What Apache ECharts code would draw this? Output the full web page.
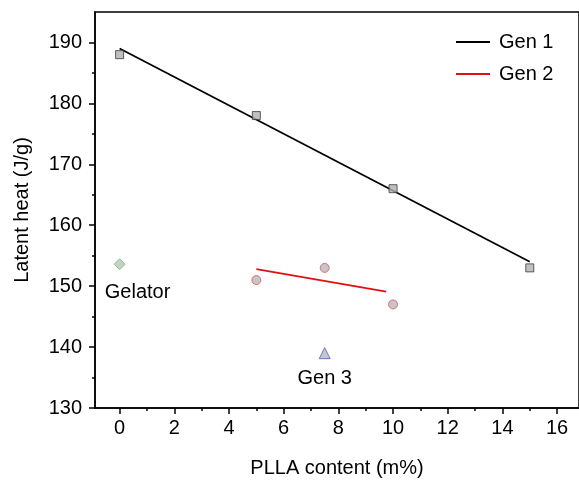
<!DOCTYPE html>
<html>
<head>
<meta charset="utf-8">
<script src="https://cdn.jsdelivr.net/npm/echarts@6/dist/echarts.min.js"></script>
<style>html,body{margin:0;padding:0;background:#fff;}#c{width:579px;height:483px;}</style>
</head>
<body>
<div id="c"></div>
<script>
// Data
var gen1X = [0, 5, 10, 15];
var gen1Y = [188, 178, 166, 153];
var gen1FitX = [0, 15];
var gen1FitY = [189, 154];
var gen2X = [5, 7.5, 10];
var gen2Y = [151, 153, 147];
var gen2FitX = [5, 9.75];
var gen2FitY = [152.8, 149.1];
var gelatorX = [0];
var gelatorY = [153.6];
var gen3X = [7.5];
var gen3Y = [139];
var xTicks = [0, 2, 4, 6, 8, 10, 12, 14, 16];
var xMinorTicks = [1, 3, 5, 7, 9, 11, 13, 15];
var yTicks = [130, 140, 150, 160, 170, 180, 190];
var yMinorTicks = [135, 145, 155, 165, 175, 185];

function pairs(xs, ys) { return xs.map(function (x, i) { return [x, ys[i]]; }); }

var FONT = 'Liberation Sans, Arial, sans-serif';
var XMIN = -0.9, XMAX = 16.8, YMIN = 130, YMAX = 195;

var chart = echarts.init(document.getElementById('c'), null, { renderer: 'canvas' });
chart.setOption({
  animation: false,
  backgroundColor: '#fff',
  grid: { left: 95, right: 0, top: 12, bottom: 74, show: true, borderColor: '#000', borderWidth: 1.5, backgroundColor: 'transparent' },
  legend: {
    orient: 'vertical', left: 451, top: 27, itemWidth: 34, itemHeight: 2, itemGap: 12, icon: 'rect',
    textStyle: { fontFamily: FONT, fontSize: 20, color: '#000', padding: [0, 0, 0, 4], lineHeight: 20 },
    data: ['Gen 1', 'Gen 2']
  },
  xAxis: [{
    type: 'value', min: XMIN, max: XMAX, gridIndex: 0,
    name: 'PLLA content (m%)', nameLocation: 'middle', nameGap: 50,
    nameTextStyle: { fontFamily: FONT, fontSize: 20, color: '#000' },
    axisLine: { show: true, onZero: false, lineStyle: { color: '#000', width: 1.5 } },
    axisTick: { show: true, inside: false, length: 6, lineStyle: { color: '#000', width: 1.5 }, customValues: xTicks },
    axisLabel: { fontFamily: FONT, fontSize: 20, color: '#000', margin: 10, customValues: xTicks },
    splitLine: { show: false }
  }, {
    type: 'value', min: XMIN, max: XMAX, gridIndex: 0, position: 'bottom',
    axisLine: { show: false, onZero: false },
    axisTick: { show: true, inside: false, length: 3, lineStyle: { color: '#000', width: 1.5 }, customValues: xMinorTicks },
    axisLabel: { show: false },
    splitLine: { show: false }
  }],
  yAxis: [{
    type: 'value', min: YMIN, max: YMAX, gridIndex: 0,
    name: 'Latent heat (J/g)', nameLocation: 'middle', nameGap: 63, nameRotate: 90,
    nameTextStyle: { fontFamily: FONT, fontSize: 20, color: '#000' },
    axisLine: { show: true, onZero: false, lineStyle: { color: '#000', width: 1.5 } },
    axisTick: { show: true, inside: false, length: 6, lineStyle: { color: '#000', width: 1.5 }, customValues: yTicks },
    axisLabel: { fontFamily: FONT, fontSize: 20, color: '#000', margin: 13, customValues: yTicks },
    splitLine: { show: false }
  }, {
    type: 'value', min: YMIN, max: YMAX, gridIndex: 0, position: 'left',
    axisLine: { show: false, onZero: false },
    axisTick: { show: true, inside: false, length: 3, lineStyle: { color: '#000', width: 1.5 }, customValues: yMinorTicks },
    axisLabel: { show: false },
    splitLine: { show: false }
  }],
  series: [{
    name: 'Gen 1', type: 'line', data: pairs(gen1FitX, gen1FitY), symbol: 'none',
    lineStyle: { color: '#000', width: 1.8 }, itemStyle: { color: '#000' }, z: 3
  }, {
    name: 'Gen 2', type: 'line', data: pairs(gen2FitX, gen2FitY), symbol: 'none',
    lineStyle: { color: '#e01010', width: 1.8 }, itemStyle: { color: '#e01010' }, z: 3
  }, {
    name: 'Gen 1 data', type: 'scatter', data: pairs(gen1X, gen1Y), symbol: 'rect', symbolSize: 8,
    itemStyle: { color: '#b0b0b0', borderColor: '#3a3a3a', borderWidth: 1 }, z: 4
  }, {
    name: 'Gen 2 data', type: 'scatter', data: pairs(gen2X, gen2Y), symbol: 'circle', symbolSize: 9,
    itemStyle: { color: '#b8b8b8', borderColor: '#e05060', borderWidth: 1 }, z: 4
  }, {
    name: 'Gelator', type: 'scatter', data: pairs(gelatorX, gelatorY), symbol: 'diamond', symbolSize: 11,
    itemStyle: { color: '#b4c8b4', borderColor: '#7db07d', borderWidth: 1 },
    label: { show: true, position: 'bottom', distance: 10, formatter: 'Gelator', fontFamily: FONT, fontSize: 20, color: '#000', textBorderWidth: 0, opacity: 1, offset: [18, 2] }, z: 4
  }, {
    name: 'Gen 3', type: 'scatter', data: pairs(gen3X, gen3Y), symbol: 'triangle', symbolSize: 11,
    itemStyle: { color: '#b8b8c8', borderColor: '#5a5ab8', borderWidth: 1 },
    label: { show: true, position: 'bottom', distance: 9, formatter: 'Gen 3', fontFamily: FONT, fontSize: 20, color: '#000', textBorderWidth: 0, opacity: 1 }, z: 4
  }]
});
</script>
</body>
</html>
